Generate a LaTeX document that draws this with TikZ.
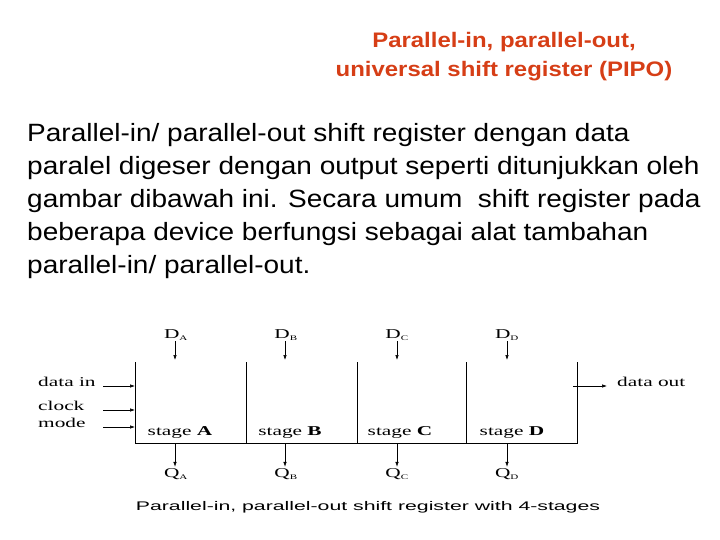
\documentclass[tikz,border=0pt]{standalone}
\usepackage{fontspec}
\setmainfont{Liberation Sans}
\newfontfamily\headfont{Liberation Sans}[FakeStretch=1.14]
\newfontfamily\bodyfont{Liberation Sans}[FakeStretch=1.12]
\newfontfamily\capfont{Liberation Sans}[FakeStretch=1.7]
\newfontfamily\diagfont{Liberation Serif}[FakeStretch=1.58]
\usetikzlibrary{positioning,arrows.meta}
\definecolor{titlered}{RGB}{214,62,22}
\tikzset{
headline/.style={
  font=\headfont\bfseries\fontsize{21}{29}\selectfont, text=titlered,
  align=center, inner sep=0pt, anchor=base
  },
bodytext/.style={
  font=\bodyfont\fontsize{25}{33}\selectfont, align=left,
  anchor=base west, inner sep=0pt
  },
lbl/.style={
  font=\diagfont\fontsize{13.5}{14}\selectfont, inner sep=0pt
  },
sublbl/.style={
  font=\diagfont\fontsize{13.5}{14}\selectfont, inner sep=1pt
  },
sig/.style={
  -{Latex[length=5pt,width=3.5pt]}, line width=0.6pt
  },
frame/.style={line width=0.8pt}
}

\begin{document}
\begin{tikzpicture}[x=1pt,y=-1pt]
\useasboundingbox (0,0) rectangle (720,540);

% title

\node[headline] (title) at (504,77)
{Parallel-in, parallel-out,\\ universal shift register (PIPO)};

% text

\node[bodytext] (body) at (27,273)
{Parallel-in/ parallel-out shift register dengan data\\
paralel digeser dengan output seperti ditunjukkan oleh\\
gambar dibawah ini. Secara umum\ \ shift register pada\\
beberapa device berfungsi sebagai alat tambahan\\
parallel-in/ parallel-out.};

% register

\coordinate (r0t) at (135,362);
\coordinate (r0b) at (135,443);
\coordinate (r1t) at (246,362);
\coordinate (r1b) at (246,443);
\coordinate (r2t) at (357,362);
\coordinate (r2b) at (357,443);
\coordinate (r3t) at (466,362);
\coordinate (r3b) at (466,443);
\coordinate (r4t) at (577,362);
\coordinate (r4b) at (577,443);

\draw[frame] (r0t) -- (r0b) -- (r4b) -- (r4t);
\draw[frame] (r1t) -- (r1b);
\draw[frame] (r2t) -- (r2b);
\draw[frame] (r3t) -- (r3b);

\node[lbl, anchor=base] (stA) at (180,435) {stage \textbf{A}};
\node[lbl, anchor=base] (stB) at (290,435) {stage \textbf{B}};
\node[lbl, anchor=base] (stC) at (400,435) {stage \textbf{C}};
\node[lbl, anchor=base] (stD) at (512,435) {stage \textbf{D}};

% parallel inputs

\node[sublbl, anchor=base] (DA) at (176,338) {D\textsubscript{\scriptsize A}};
\node[sublbl, anchor=base] (DB) at (286,338) {D\textsubscript{\scriptsize B}};
\node[sublbl, anchor=base] (DC) at (397,338) {D\textsubscript{\scriptsize C}};
\node[sublbl, anchor=base] (DD) at (507,338) {D\textsubscript{\scriptsize D}};

\coordinate (inA) at (175,360);
\coordinate (inB) at (285,360);
\coordinate (inC) at (397,360);
\coordinate (inD) at (507,360);

\draw[sig] (DA.south -| inA) -- (inA);
\draw[sig] (DB.south -| inB) -- (inB);
\draw[sig] (DC.south -| inC) -- (inC);
\draw[sig] (DD.south -| inD) -- (inD);

% parallel outputs

\node[sublbl, anchor=base] (QA) at (176,477) {Q\textsubscript{\scriptsize A}};
\node[sublbl, anchor=base] (QB) at (286,477) {Q\textsubscript{\scriptsize B}};
\node[sublbl, anchor=base] (QC) at (397,477) {Q\textsubscript{\scriptsize C}};
\node[sublbl, anchor=base] (QD) at (507,477) {Q\textsubscript{\scriptsize D}};

\coordinate (outA) at (175,443);
\coordinate (outB) at (285,443);
\coordinate (outC) at (397,443);
\coordinate (outD) at (507,443);

\draw[sig] (outA) -- (QA.north -| outA);
\draw[sig] (outB) -- (QB.north -| outB);
\draw[sig] (outC) -- (QC.north -| outC);
\draw[sig] (outD) -- (QD.north -| outD);

% control inputs

\node[lbl, anchor=base west] (din) at (38,386) {data in};
\node[lbl, anchor=base west] (clk) at (38,410) {clock};
\node[lbl, anchor=base west] (mode) at (38,427) {mode};

\coordinate (dinS) at (103,386);
\coordinate (clkS) at (103,410);
\coordinate (modeS) at (103,427);

\draw[sig] (dinS) -- (dinS -| r0t);
\draw[sig] (clkS) -- (clkS -| r0t);
\draw[sig] (modeS) -- (modeS -| r0t);

% serial output

\node[lbl, anchor=base west] (dout) at (617,386) {data out};
\coordinate (doutS) at (573,386);
\draw[sig] (doutS) -- ++(34,0);

% caption

\node[font=\capfont\fontsize{12.5}{14}\selectfont, anchor=base] (caption) at (368,510)
{Parallel-in, parallel-out shift register with 4-stages};

\end{tikzpicture}
\end{document}
